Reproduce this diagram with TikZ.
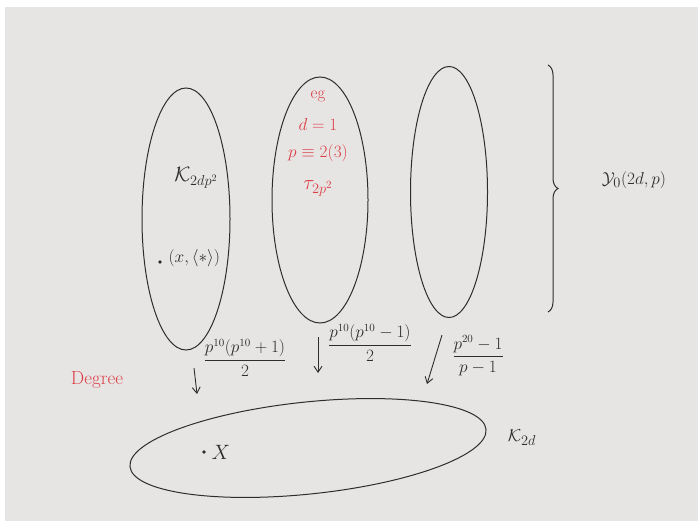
\documentclass[tikz,border=0pt]{standalone}
\usepackage{tikz}
\usetikzlibrary{arrows.meta,decorations.pathreplacing,positioning,shapes.geometric}
\usepackage{amsmath}
\definecolor{paper}{RGB}{231,229,227}
\definecolor{ink}{RGB}{45,45,45}
\definecolor{redink}{RGB}{220,62,72}
\newcommand{\fib}[1]{\mathcal{K}_{#1}}

\begin{document}
\begin{tikzpicture}[x=1pt,y=-1pt,font=\fontsize{16}{19}\selectfont,text=ink,
  blob/.style={ellipse,draw=ink,line width=1pt,inner sep=0pt},
  red/.style={text=redink,font=\fontsize{17}{20}\selectfont},
  deg/.style={draw=ink,line width=0.9pt,-{Straight Barb[length=6pt,width=8pt]}}]
  \useasboundingbox (0,0) rectangle (698,527);
  \fill[paper] (5,7) rectangle (698,521);
  % fibres over K_{2d}
  \node[blob,minimum width=88,minimum height=262] (fibA) at (186,219) {};
  \node[blob,minimum width=96,minimum height=246] (fibB) at (320,200) {};
  \node[blob,minimum width=77,minimum height=251] (fibC) at (449,192) {};
  \node[blob,minimum width=358,minimum height=92,rotate=6] (base) at (308,448) {};
  \node[font=\fontsize{20}{24}\selectfont] (kA) at (196,178) {$\fib{2dp^2}$};
  \node[circle,fill=ink,inner sep=1.3pt] (ptA) at (160,262) {};
  \node[right=3pt of ptA,yshift=4pt] (ptAlab) {$(x,\langle * \rangle)$};
  \node[red] (eg) at (318,96) {eg};
  \node[red] (dval) at (318,124) {$d=1$};
  \node[red] (pval) at (318,153) {$p\equiv 2(3)$};
  \node[red,font=\fontsize{22}{26}\selectfont] (tau) at (318,188) {$\tau_{2p^2}$};
  % brace
  \draw[ink,line width=1pt,decorate,decoration={brace,amplitude=10pt}] (548,65) -- (548,312);
  \node[font=\fontsize{19}{22}\selectfont] (yLab) at (634,180) {$\mathcal{Y}_0(2d,p)$};
  % degrees
  \coordinate (dA0) at (194,368); \coordinate (dA1) at (197,394);
  \coordinate (dB0) at (318,337); \coordinate (dB1) at (318,373);
  \coordinate (dC0) at (442,335); \coordinate (dC1) at (427,384);
  \draw[deg] (dA0) -- (dA1);
  \draw[deg] (dB0) -- (dB1);
  \draw[deg] (dC0) -- (dC1);
  \node (fA) at (245,358) {$\dfrac{p^{10}(p^{10}+1)}{2}$};
  \node (fB) at (370,343) {$\dfrac{p^{10}(p^{10}-1)}{2}$};
  \node (fC) at (478,356) {$\dfrac{p^{20}-1}{p-1}$};
  \node[red,font=\fontsize{19}{22}\selectfont] (degLab) at (97,380) {Degree};
  \node[circle,fill=ink,inner sep=1.3pt] (ptX) at (204,452) {};
  \node[right=2pt of ptX,font=\fontsize{20}{24}\selectfont] (xLab) {$X$};
  \node[font=\fontsize{19}{22}\selectfont] (kBase) at (522,438) {$\fib{2d}$};
\end{tikzpicture}
\end{document}
